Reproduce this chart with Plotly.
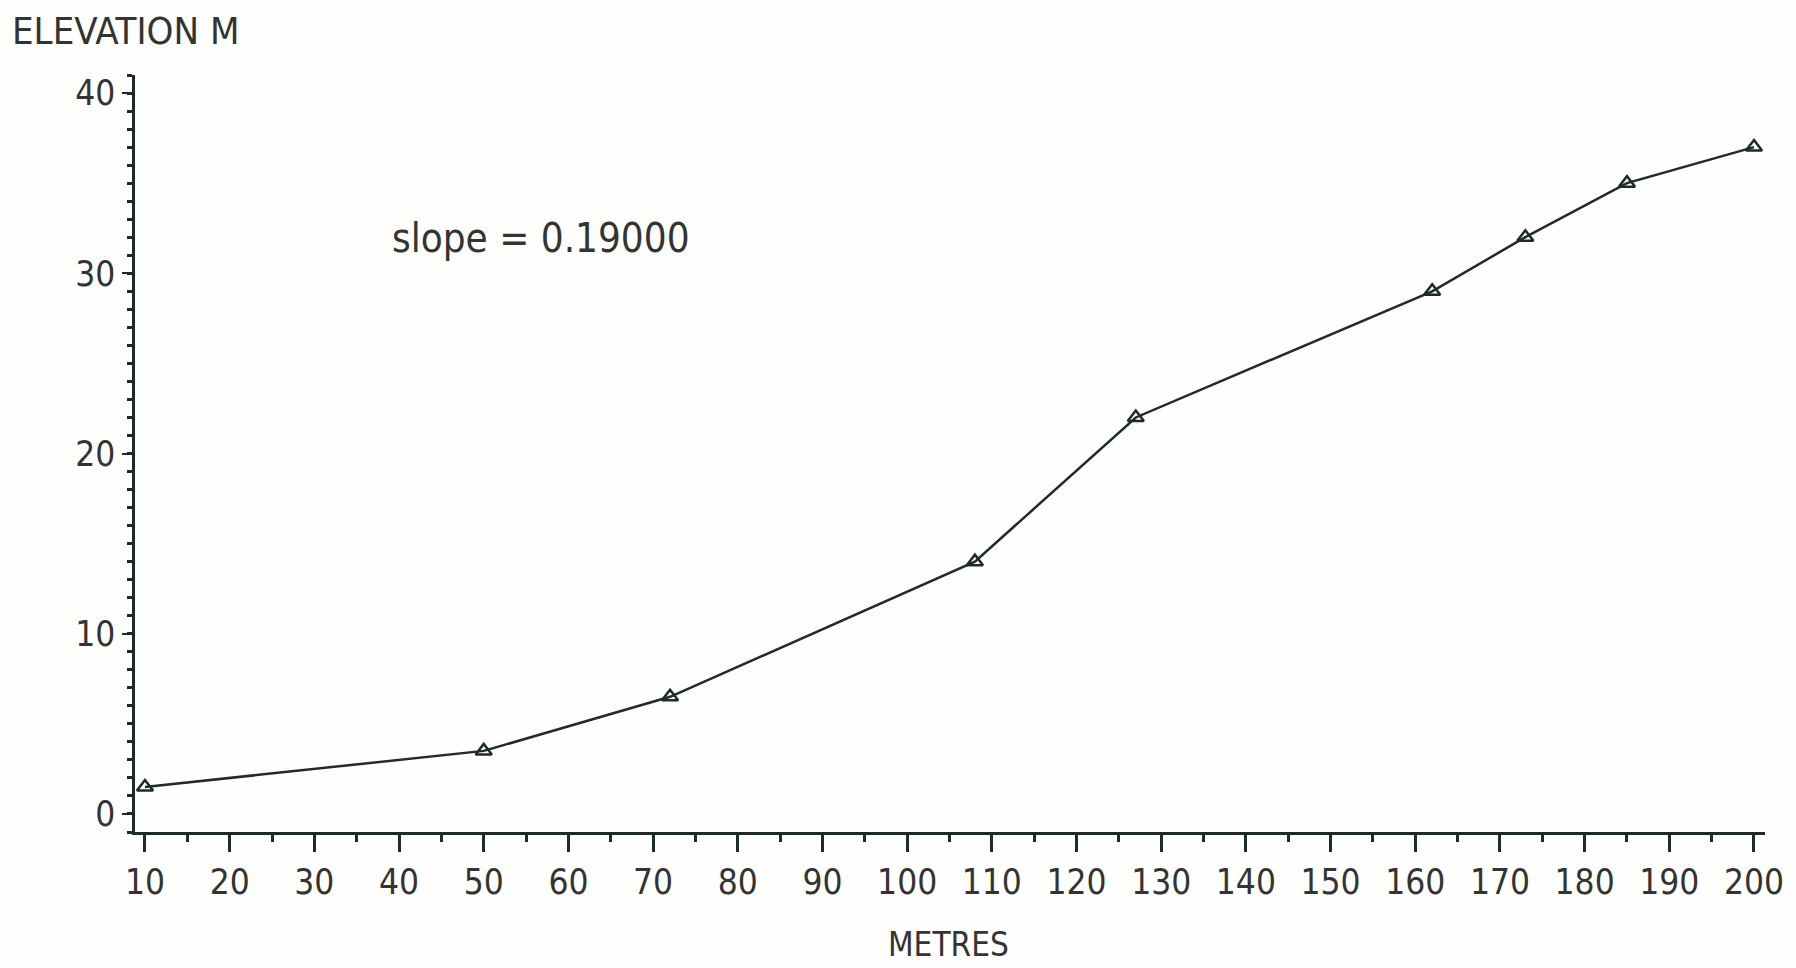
import plotly.graph_objects as go

# Data
metres = [10, 50, 72, 108, 127, 162, 173, 185, 200]
elevation = [1.5, 3.5, 6.5, 14, 22, 29, 32, 35, 37]

x_tick_vals = list(range(10, 201, 10))
y_tick_vals = [0, 10, 20, 30, 40]

y_title = "ELEVATION M"
x_title = "METRES"
slope_text = "slope = 0.19000"

FONT = "Liberation Sans Narrow, DejaVu Sans Condensed, Arial Narrow, sans-serif"
INK = "#1e2b2b"
TXT = "#333333"
BG = "#fefefc"

fig = go.Figure()
fig.add_trace(go.Scatter(
    x=metres, y=elevation, mode="lines+markers",
    line=dict(color=INK, width=2.5),
    marker=dict(symbol="triangle-up-open", size=14, color=INK,
                line=dict(width=2.5, color=INK)),
    showlegend=False, hoverinfo="x+y",
))

fig.update_layout(
    width=1796, height=968,
    margin=dict(l=135, r=31, t=75, b=136),
    paper_bgcolor=BG, plot_bgcolor=BG,
    font=dict(family=FONT, size=35, color=TXT),
    xaxis=dict(
        range=[8.82, 201.3], tickvals=x_tick_vals, automargin=False,
        showgrid=False, zeroline=False,
        showline=True, linecolor=INK, linewidth=2.5,
        ticks="outside", ticklen=17, tickwidth=2.5, tickcolor=INK,
        minor=dict(dtick=5, tick0=5, ticks="outside", ticklen=7, tickwidth=2.5,
                   tickcolor=INK, showgrid=False),
        tickfont=dict(family=FONT, size=35, color=TXT),
    ),
    yaxis=dict(
        range=[-1, 41], tickvals=y_tick_vals, automargin=False,
        showgrid=False, zeroline=False,
        showline=True, linecolor=INK, linewidth=2.5,
        ticks="outside", ticklen=10, tickwidth=2, tickcolor=INK,
        minor=dict(dtick=1, tick0=0, ticks="outside", ticklen=5, tickwidth=2.5,
                   tickcolor=INK, showgrid=False),
        tickfont=dict(family=FONT, size=35, color=TXT),
    ),
    annotations=[
        dict(text=y_title, xref="paper", yref="paper", x=-0.0765, y=1.058,
             xanchor="left", yanchor="middle", showarrow=False,
             font=dict(family=FONT, size=38, color=TXT)),
        dict(text=x_title, xref="paper", yref="paper", x=0.4988, y=-0.149,
             xanchor="center", yanchor="middle", showarrow=False,
             font=dict(family=FONT, size=33, color=TXT)),
        dict(text=slope_text, xref="paper", yref="paper", x=0.249, y=0.785,
             xanchor="center", yanchor="middle", showarrow=False,
             font=dict(family=FONT, size=40, color=TXT)),
    ],
)

fig.write_html("out.html")
